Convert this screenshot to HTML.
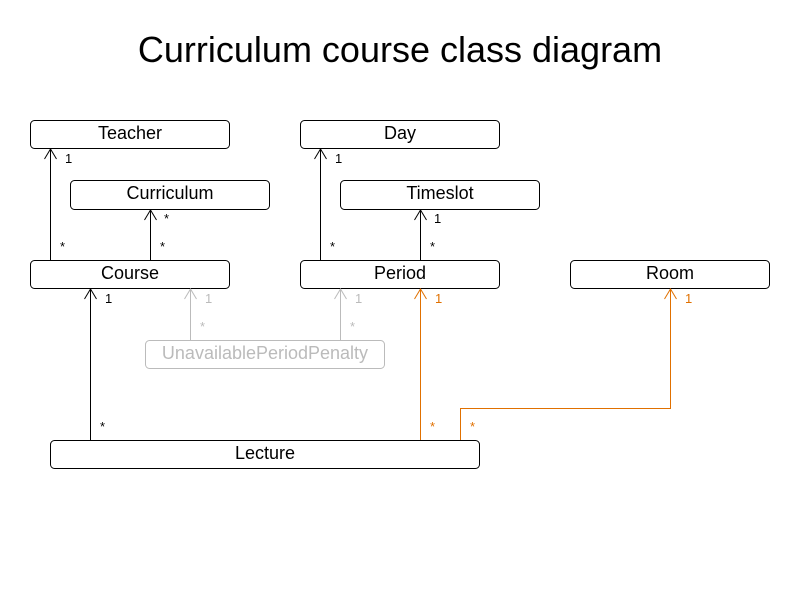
<!DOCTYPE html>
<html><head><meta charset="utf-8"><style>
body{margin:0;background:#fff;}
svg text{font-family:"Liberation Sans",sans-serif;}
</style></head><body>
<svg width="800" height="600" xmlns="http://www.w3.org/2000/svg">
<rect width="800" height="600" fill="#fff"/>
<text x="400" y="62" font-size="36" text-anchor="middle" fill="#000">Curriculum course class diagram</text>
<g fill="#fff" stroke="#000" stroke-width="1">
<rect x="30.5" y="120.5" width="199" height="28" rx="4"/>
<rect x="300.5" y="120.5" width="199" height="28" rx="4"/>
<rect x="70.5" y="180.5" width="199" height="29" rx="4"/>
<rect x="340.5" y="180.5" width="199" height="29" rx="4"/>
<rect x="30.5" y="260.5" width="199" height="28" rx="4"/>
<rect x="300.5" y="260.5" width="199" height="28" rx="4"/>
<rect x="570.5" y="260.5" width="199" height="28" rx="4"/>
<rect x="50.5" y="440.5" width="429" height="28" rx="4"/>
<rect x="145.5" y="340.5" width="239" height="28" rx="4" stroke="#bbb"/>
</g>
<g font-size="18" text-anchor="middle" fill="#000">
<text x="130" y="139">Teacher</text>
<text x="400" y="139">Day</text>
<text x="170" y="199">Curriculum</text>
<text x="440" y="199">Timeslot</text>
<text x="130" y="279">Course</text>
<text x="400" y="279">Period</text>
<text x="670" y="279">Room</text>
<text x="265" y="359" fill="#bbb">UnavailablePeriodPenalty</text>
<text x="265" y="459">Lecture</text>
</g>
<g fill="none" stroke-width="1">
<g stroke="#000">
<path d="M50.5 260V149M44.5 159L50.5 149L56.5 159"/>
<path d="M150.5 260V210M144.5 220L150.5 210L156.5 220"/>
<path d="M320.5 260V149M314.5 159L320.5 149L326.5 159"/>
<path d="M420.5 260V210M414.5 220L420.5 210L426.5 220"/>
<path d="M90.5 440V289M84.5 299L90.5 289L96.5 299"/>
</g>
<g stroke="#bbb">
<path d="M190.5 340V289M184.5 299L190.5 289L196.5 299"/>
<path d="M340.5 340V289M334.5 299L340.5 289L346.5 299"/>
</g>
<g stroke="#e07000">
<path d="M420.5 440V289M414.5 299L420.5 289L426.5 299"/>
<path d="M460.5 440V408.5H670.5V289M664.5 299L670.5 289L676.5 299"/>
</g>
</g>
<g font-size="13" fill="#000">
<text x="65" y="163">1</text><text x="60" y="251">*</text>
<text x="164" y="223">*</text><text x="160" y="251">*</text>
<text x="335" y="163">1</text><text x="330" y="251">*</text>
<text x="434" y="223">1</text><text x="430" y="251">*</text>
<text x="105" y="303">1</text><text x="100" y="431">*</text>
</g>
<g font-size="13" fill="#bbb">
<text x="205" y="303">1</text><text x="200" y="331">*</text>
<text x="355" y="303">1</text><text x="350" y="331">*</text>
</g>
<g font-size="13" fill="#e07000">
<text x="435" y="303">1</text><text x="430" y="431">*</text>
<text x="685" y="303">1</text><text x="470" y="431">*</text>
</g>
</svg>
</body></html>
